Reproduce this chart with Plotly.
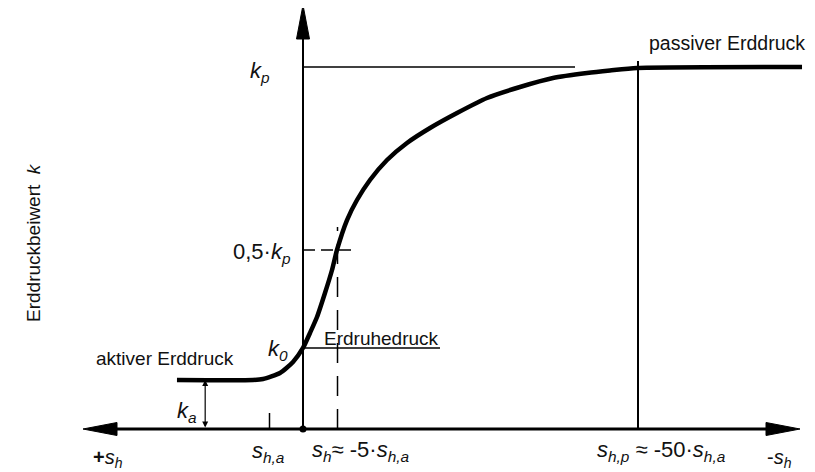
import plotly.graph_objects as go

# ---- schematic data (s in arbitrary units, k normalised so k_p = 1) ----
curve_s = [-18.81, -7.46, -5.97, -3.43, -1.49, 0.0, 1.04, 2.09, 3.28, 4.33, 5.07, 6.57, 8.06,
           10.0, 12.54, 15.52, 18.96, 22.99, 27.46, 32.39, 37.31, 42.39, 45.82, 49.85, 74.48]
curve_k = [0.1354, 0.1354, 0.1381, 0.1547, 0.1851, 0.2238, 0.2652, 0.3094, 0.3757, 0.4392, 0.4945,
           0.5773, 0.6326, 0.6878, 0.7431, 0.7901, 0.8315, 0.8729, 0.9144, 0.9448, 0.9696, 0.9834,
           0.9903, 0.9972, 1.0]

k_p = 1.0
k_0 = 0.2238
k_a = 0.1354
k_half = 0.4945
s_half = 5.15     # s_h ≈ -5·s_h,a
s_hp = 50.0       # s_h,p ≈ -50·s_h,a
s_ha = -5.0       # s_h,a tick
s_ka = -14.6      # position of k_a dimension arrow

# pixel <-> data helpers (screen pixels of the 815x472 page)
PX = 1 / 6.7
PY = 1 / 362
def SX(px):
    return (px - 303) * PX
def SY(py):
    return (429 - py) * PY

OFF = 8  # page body margin
W, H = 815 - OFF, 472 - OFF
X_MIN, X_MAX = SX(OFF), SX(815)
Y_MIN, Y_MAX = SY(472), SY(OFF)

FONT = "Liberation Sans, Arial, sans-serif"
fig = go.Figure()

fig.add_trace(go.Scatter(x=curve_s, y=curve_k, mode="lines",
                         line=dict(color="black", width=4.5, shape="spline", smoothing=0.6),
                         hoverinfo="skip", showlegend=False))

shapes = []
def line(x0, y0, x1, y1, w=1.5, dash=None):
    d = dict(type="line", xref="x", yref="y", x0=x0, y0=y0, x1=x1, y1=y1,
             line=dict(color="black", width=w))
    if dash:
        d["line"]["dash"] = dash
    shapes.append(d)

# axes
x_left, x_right = SX(83), SX(800)
y_top = SY(5)
line(x_left + 20 * PX, 0, x_right - 20 * PX, 0, w=3)
line(0, 0, 0, y_top - 20 * PY, w=2)

ah_len, ah_half = 34, 6.5
def tri(pts):
    p = "M " + " L ".join(f"{a},{b}" for a, b in pts) + " Z"
    shapes.append(dict(type="path", xref="x", yref="y", path=p,
                       fillcolor="black", line=dict(color="black", width=1)))
tri([(x_left, 0), (x_left + ah_len * PX, ah_half * PY), (x_left + ah_len * PX, -ah_half * PY)])
tri([(x_right, 0), (x_right - ah_len * PX, ah_half * PY), (x_right - ah_len * PX, -ah_half * PY)])
tri([(0, y_top), (ah_half * PX, y_top - ah_len * PY), (-ah_half * PX, y_top - ah_len * PY)])

# reference lines
line(0, k_p, SX(575), k_p, w=1.5)
line(s_hp, 0, s_hp, SY(61), w=2)
line(0, k_0, SX(440), k_0, w=1.5)
line(s_ha, 0, s_ha, SY(413), w=1.5)
line(0, k_half, SX(354), k_half, w=1.5, dash="12px,6px")
line(s_half, 0, s_half, SY(227), w=1.5, dash="20px,13px")

shapes.append(dict(type="circle", xref="x", yref="y",
                   x0=-3.5 * PX, x1=3.5 * PX, y0=-3.5 * PY, y1=3.5 * PY,
                   fillcolor="black", line=dict(color="black", width=0)))

ann = []
def txt(px, py, t, size=19, xanchor="center", yanchor="middle", angle=0):
    ann.append(dict(x=SX(px), y=SY(py), xref="x", yref="y", text=t, showarrow=False,
                    xanchor=xanchor, yanchor=yanchor, textangle=angle,
                    font=dict(family=FONT, size=size, color="#111")))

ann.append(dict(x=s_ka, y=k_a, ax=s_ka, ay=0, xref="x", yref="y", axref="x", ayref="y",
                text="", showarrow=True, arrowhead=2, arrowside="end+start",
                arrowsize=1, arrowwidth=1.2, arrowcolor="black"))

txt(260, 72, "<i>k<sub>p</sub></i>", size=22)
txt(293, 253, "0,5·<i>k<sub>p</sub></i>", size=22, xanchor="right")
txt(278, 350, "<i>k<sub>0</sub></i>", size=22)
txt(322, 338, "Erdruhedruck", size=19, xanchor="left")
txt(165, 358, "aktiver Erddruck", size=19)
txt(727, 43, "passiver Erddruck", size=19.5)
txt(187, 412, "<i>k<sub>a</sub></i>", size=22)
txt(33, 243, "Erddruckbeiwert\u00a0\u00a0<i>k</i>", size=19, angle=-90)
txt(268, 452, "<i>s<sub>h,a</sub></i>", size=22)
txt(360, 451, "<i>s<sub>h</sub></i>≈ -5·<i>s<sub>h,a</sub></i>", size=22)
txt(661, 451, "<i>s<sub>h,p</sub></i> ≈ -50·<i>s<sub>h,a</sub></i>", size=22)
txt(108, 458, "<b>+</b><i>s<sub>h</sub></i>", size=20)
txt(779, 458, "-<i>s<sub>h</sub></i>", size=20)

fig.update_layout(
    width=W, height=H, margin=dict(l=0, r=0, t=0, b=0),
    paper_bgcolor="white", plot_bgcolor="white",
    xaxis=dict(range=[X_MIN, X_MAX], visible=False, fixedrange=True),
    yaxis=dict(range=[Y_MIN, Y_MAX], visible=False, fixedrange=True),
    shapes=shapes, annotations=ann, showlegend=False,
)
fig.write_html("out.html")
